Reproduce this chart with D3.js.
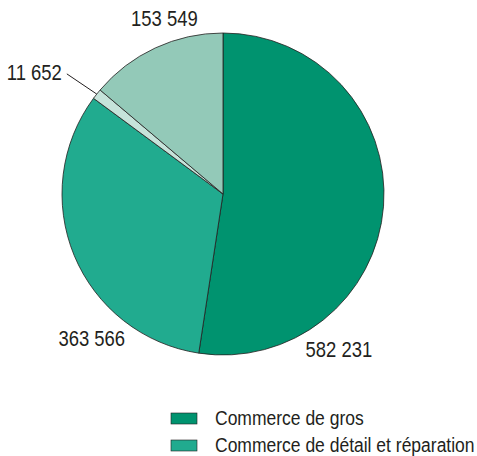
<!DOCTYPE html>
<html>
<head>
<meta charset="utf-8">
<script src="https://cdn.jsdelivr.net/npm/d3@7"></script>
<style>
  body { margin: 0; background: #fff; }
  text { font-family: "Liberation Sans", Arial, sans-serif; fill: #231f20; }
</style>
</head>
<body>
<div id="chart"></div>
<script>
// Data
var categories = ["Commerce de gros", "Commerce de détail et réparation", "Autre", "Non classé"];
var values = [582231, 363566, 11652, 153549];
var labels = ["582 231", "363 566", "11 652", "153 549"];
var colors = ["#00936f", "#21ab8f", "#c6e3da", "#93c9b8"];
var legendCount = 2;

// label placement (angle in degrees from 12 o'clock, distance from centre)
var labelAngle = [143.3, 222.3, 302.8, 341.6];
var labelDist = [194, 195, 224.5, 185.5];

var width = 477, height = 456;
var cx = 223, cy = 194, radius = 161;
var condense = 0.84;

var svg = d3.select("#chart").append("svg")
    .attr("width", width)
    .attr("height", height);

var g = svg.append("g")
    .attr("transform", "translate(" + cx + "," + cy + ")");

var pie = d3.pie().sort(null).value(function(d) { return d; });
var arcs = pie(values);

var arc = d3.arc().innerRadius(0).outerRadius(radius);

g.selectAll("path.slice")
    .data(arcs)
    .enter().append("path")
    .attr("class", "slice")
    .attr("d", arc)
    .attr("fill", function(d, i) { return colors[i]; })
    .attr("stroke", "#231f20")
    .attr("stroke-width", 0.8)
    .attr("stroke-linejoin", "round");

function polar(angDeg, r) {
    var a = angDeg * Math.PI / 180;
    return [Math.sin(a) * r, -Math.cos(a) * r];
}

// value labels
var valText = g.selectAll("text.val")
    .data(arcs)
    .enter().append("text")
    .attr("class", "val")
    .attr("transform", function(d, i) {
        var p = polar(labelAngle[i], labelDist[i]);
        return "translate(" + p[0] + "," + p[1] + ") scale(" + condense + ",1)";
    })
    .attr("dy", "0.36em")
    .attr("text-anchor", "middle")
    .attr("font-size", 22)
    .text(function(d, i) { return labels[i]; });

// leader line for the small slice
var small = arcs[2];
var midA = (small.startAngle + small.endAngle) / 2 * 180 / Math.PI;
var p1 = polar(midA, radius);
var lp = polar(labelAngle[2], labelDist[2]);
var halfW = valText.nodes()[2].getBBox().width * condense / 2;
g.append("line")
    .attr("x1", lp[0] + halfW + 5).attr("y1", lp[1] + 1.5)
    .attr("x2", p1[0]).attr("y2", p1[1])
    .attr("stroke", "#231f20")
    .attr("stroke-width", 1);

// legend
var legend = svg.append("g")
    .attr("transform", "translate(171,413)");

var item = legend.selectAll("g")
    .data(categories.slice(0, legendCount))
    .enter().append("g")
    .attr("transform", function(d, i) { return "translate(0," + (i * 27) + ")"; });

item.append("rect")
    .attr("width", 26)
    .attr("height", 11)
    .attr("fill", function(d, i) { return colors[i]; })
    .attr("stroke", "#231f20")
    .attr("stroke-width", 0.6);

item.append("text")
    .attr("transform", "translate(44,11.5) scale(0.875,1)")
    .attr("font-size", 20)
    .text(function(d) { return d; });
</script>
</body>
</html>
